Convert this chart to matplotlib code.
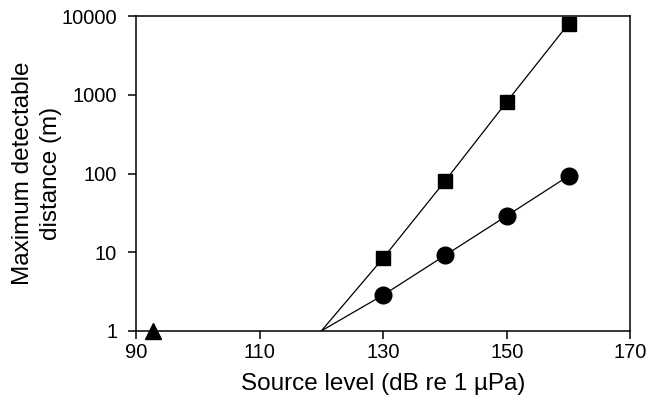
import numpy as np
import matplotlib
matplotlib.use("Agg")
import matplotlib.pyplot as plt

# DATA
SQ_LEVEL  = [130, 140, 150, 160]
SQ_DIST   = [8.4, 80, 815, 8000]
CIR_LEVEL = [130, 140, 150, 160]
CIR_DIST  = [2.85, 9.1, 29, 93]
TRI_LEVEL = [92.8]
TRI_DIST  = [1]
ORIGIN_LEVEL = 120   # where both fitted lines meet y = 1
ORIGIN_DIST  = 1

X_TICKS = [90, 110, 130, 150, 170]
Y_TICKS = [1, 10, 100, 1000, 10000]

plt.rcParams["font.family"] = ["Liberation Sans", "DejaVu Sans"]

fig = plt.figure(figsize=(6.6, 4.05), dpi=100)
ax = fig.add_axes([0.206, 0.183, 0.749, 0.777])

# fitted lines (from the common origin)
ax.plot([ORIGIN_LEVEL] + SQ_LEVEL, [ORIGIN_DIST] + SQ_DIST, color="black", lw=0.9, zorder=2)
ax.plot([ORIGIN_LEVEL] + CIR_LEVEL, [ORIGIN_DIST] + CIR_DIST, color="black", lw=0.9, zorder=2)

ax.plot(SQ_LEVEL, SQ_DIST, ls="none", marker="s", ms=9.5, color="black", clip_on=False, zorder=3)
ax.plot(CIR_LEVEL, CIR_DIST, ls="none", marker="o", ms=12, color="black", clip_on=False, zorder=3)
ax.plot(TRI_LEVEL, TRI_DIST, ls="none", marker="^", ms=12, color="black", clip_on=False, zorder=3)

ax.set_yscale("log")
ax.set_xlim(90, 170)
ax.set_ylim(1, 10000)
ax.set_xticks(X_TICKS)
ax.set_xticklabels([str(t) for t in X_TICKS])
ax.set_yticks(Y_TICKS)
ax.set_yticklabels([str(t) for t in Y_TICKS])
ax.yaxis.set_minor_locator(matplotlib.ticker.NullLocator())

for s in ax.spines.values():
    s.set_linewidth(1.1)
ax.tick_params(axis="both", which="major", direction="out", length=5.5, width=1.1,
               labelsize=14.5, top=False, right=False)
ax.tick_params(axis="y", pad=8)
ax.tick_params(axis="x", pad=3)

ax.set_xlabel("Source level (dB re 1 µPa)", fontsize=17.5, labelpad=8)
ax.set_ylabel("Maximum detectable\ndistance (m)", fontsize=17.5, labelpad=0, linespacing=1.35)

fig.savefig("out.png", dpi=100)
